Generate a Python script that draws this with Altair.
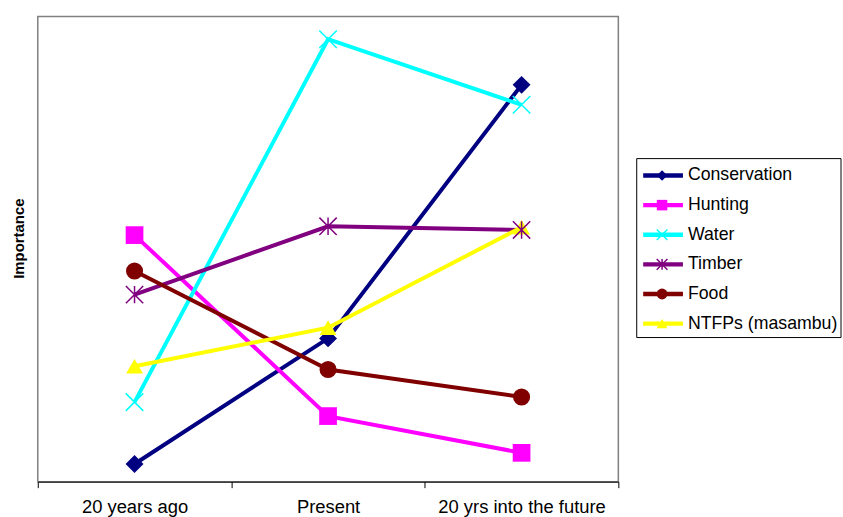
import altair as alt
import pandas as pd

# Categories and series
periods = ["20 years ago", "Present", "20 yrs into the future"]
series = ["Conservation", "Hunting", "Water", "Timber", "Food", "NTFPs (masambu)"]

# Importance scores per period
conservation = [3.8, 30.8, 85.3]
hunting = [53.0, 14.1, 6.2]
water = [17.1, 95.1, 81.0]
timber = [40.2, 54.9, 54.1]
food = [45.3, 24.1, 18.2]
ntfps = [24.8, 33.1, 54.7]

colors = ["#000080", "#FF00FF", "#00FFFF", "#800080", "#800000", "#FFFF00"]

X_PATH = "M-1,-1L1,1M-1,1L1,-1"
STAR_PATH = "M-1,-1L1,1M-1,1L1,-1M0,-1L0,1"
shapes = ["diamond", "square", X_PATH, STAR_PATH, "circle", "triangle-up"]
sizes = [324, 289, 289, 289, 289, 324]
legend_sizes = [110, 120, 110, 110, 120, 130]
stroked = ["Water", "Timber"]

values = [conservation, hunting, water, timber, food, ntfps]
rows = []
for s, vals in zip(series, values):
    for p, v in zip(periods, vals):
        rows.append({"series": s, "period": p, "value": v})
df = pd.DataFrame(rows)
legend_df = pd.DataFrame({"series": series})

FONT = "Liberation Sans"

color_scale = alt.Scale(domain=series, range=colors)
shape_scale = alt.Scale(domain=series, range=shapes)
size_scale = alt.Scale(domain=series, range=sizes)

x_enc = alt.X(
    "period:N",
    sort=periods,
    bandPosition=0.5,
    scale=alt.Scale(type="band", paddingInner=0, paddingOuter=0),
    axis=alt.Axis(
        title=None,
        labelAngle=0,
        tickBand="extent",
        domainColor="black",
        tickColor="black",
        tickSize=6,
        labelFont=FONT,
        labelFontSize=18.5,
        labelColor="black",
        labelPadding=10,
        grid=False,
    ),
)
y_enc = alt.Y(
    "value:Q",
    scale=alt.Scale(domain=[0, 100]),
    axis=alt.Axis(
        title="Importance",
        labels=False,
        ticks=False,
        domain=False,
        grid=False,
        titleFont=FONT,
        titleFontSize=15,
        titleFontWeight="bold",
        titleColor="black",
        titlePadding=11,
        titleY=223,
    ),
)

base = alt.Chart(df).encode(x=x_enc, y=y_enc)

lines = base.mark_line(strokeWidth=4).encode(
    color=alt.Color("series:N", scale=color_scale, legend=None),
    detail="series:N",
)
filled_pts = base.transform_filter(
    ~alt.FieldOneOfPredicate(field="series", oneOf=stroked)
).mark_point(filled=True, opacity=1).encode(
    color=alt.Color("series:N", scale=color_scale, legend=None),
    shape=alt.Shape("series:N", scale=shape_scale, legend=None),
    size=alt.Size("series:N", scale=size_scale, legend=None),
)
stroked_pts = base.transform_filter(
    alt.FieldOneOfPredicate(field="series", oneOf=stroked)
).mark_point(filled=False, opacity=1, strokeWidth=1.5).encode(
    color=alt.Color("series:N", scale=color_scale, legend=None),
    shape=alt.Shape("series:N", scale=shape_scale, legend=None),
    size=alt.Size("series:N", scale=size_scale, legend=None),
)

main = alt.layer(lines, filled_pts, stroked_pts).properties(
    width=584, height=468, view=alt.ViewConfig(stroke="#808080", strokeWidth=1.5)
)

# Custom legend: line segment with marker, plus label
ly = alt.Y("series:N", sort=series, axis=None,
           scale=alt.Scale(type="point", domain=series, range=[160, 309], padding=0))
lbase = alt.Chart(legend_df).encode(y=ly)

box = alt.Chart(legend_df).mark_rect(fill="white", stroke="black", strokeWidth=1).encode(
    x=alt.value(0.5), x2=alt.value(206), y=alt.value(143), y2=alt.value(323)
).transform_filter(alt.datum.series == series[0])

lrules = lbase.mark_rule(strokeWidth=4.5).encode(
    x=alt.value(7), x2=alt.value(47),
    color=alt.Color("series:N", scale=color_scale, legend=None),
)
lsize = alt.Scale(domain=series, range=legend_sizes)
lfilled = lbase.transform_filter(
    ~alt.FieldOneOfPredicate(field="series", oneOf=stroked)
).mark_point(filled=True, opacity=1).encode(
    x=alt.value(26),
    color=alt.Color("series:N", scale=color_scale, legend=None),
    shape=alt.Shape("series:N", scale=shape_scale, legend=None),
    size=alt.Size("series:N", scale=lsize, legend=None),
)
lstroked = lbase.transform_filter(
    alt.FieldOneOfPredicate(field="series", oneOf=stroked)
).mark_point(filled=False, opacity=1, strokeWidth=1.5).encode(
    x=alt.value(26),
    color=alt.Color("series:N", scale=color_scale, legend=None),
    shape=alt.Shape("series:N", scale=shape_scale, legend=None),
    size=alt.Size("series:N", scale=lsize, legend=None),
)
ltext = lbase.mark_text(align="left", baseline="middle", font=FONT, fontSize=17.8,
                        color="black").encode(x=alt.value(52), text="series:N")

legend = alt.layer(box, lrules, lfilled, lstroked, ltext).properties(
    width=207, height=468, view=alt.ViewConfig(stroke="transparent")
)

chart = alt.hconcat(main, legend, spacing=15).properties(
    padding={"left": 11, "top": 14, "right": 0, "bottom": 0},
    background="white",
).resolve_scale(color="independent", shape="independent", size="independent", y="independent")

chart.save("out.html", embed_options={"renderer": "svg", "actions": False})
